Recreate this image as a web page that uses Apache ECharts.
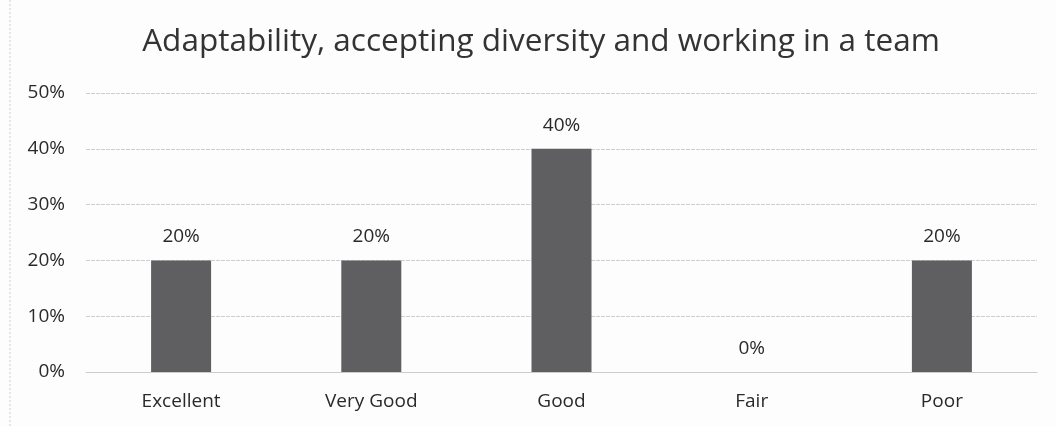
<!DOCTYPE html>
<html>
<head>
<meta charset="utf-8">
<script src="https://cdn.jsdelivr.net/npm/echarts@6/dist/echarts.min.js"></script>
<style>
  html, body { margin: 0; padding: 0; background: #fff; }
  #chart { width: 1056px; height: 426px; }
</style>
</head>
<body>
<div id="chart"></div>
<script>
const categories = ["Excellent", "Very Good", "Good", "Fair", "Poor"];
const shares = [20, 20, 40, 0, 20];
const yTicks = [0, 10, 20, 30, 40, 50];

function chartInit() {
  const chart = echarts.init(document.getElementById("chart"));
  const options = {
    backgroundColor: "#fdfdfd",
    title: {
      text: "Adaptability, accepting diversity and working in a team",
      left: 536,
      top: 21,
      textAlign: "center",
      textStyle: {
        fontFamily: "Open Sans",
        fontSize: 31.5,
        fontWeight: "normal",
        color: "#333",
      },
    },
    grid: { left: 86, right: 19, top: 93, bottom: 54 },
    xAxis: {
      type: "category",
      data: categories,
      axisLine: { lineStyle: { color: "#cccccc" } },
      axisTick: { show: false },
      axisLabel: {
        fontFamily: "Open Sans",
        fontSize: 19,
        color: "#2a2a2a",
        margin: 20,
      },
    },
    yAxis: {
      type: "value",
      min: yTicks[0],
      max: yTicks[yTicks.length - 1],
      interval: 10,
      axisLine: { show: false },
      axisTick: { show: false },
      splitLine: { lineStyle: { color: "#cfcfcf", type: [4, 1] } },
      axisLabel: {
        formatter: "{value}%",
        fontFamily: "Open Sans",
        fontSize: 19,
        color: "#2a2a2a",
        margin: 21,
      },
    },
    series: [
      {
        type: "bar",
        data: shares,
        barWidth: 60,
        itemStyle: { color: "#5f5e60" },
        label: {
          show: true,
          position: "top",
          distance: 14,
          formatter: "{c}%",
          fontFamily: "Open Sans",
          fontSize: 19,
          color: "#2a2a2a",
        },
      },
    ],
    graphic: [
      {
        type: "line",
        shape: { x1: 10, y1: 0, x2: 10, y2: 426 },
        style: { stroke: "#cfcfcf", lineWidth: 1, lineDash: [2, 2] },
      },
    ],
  };
  chart.setOption(options);
}

chartInit();
</script>
</body>
</html>
